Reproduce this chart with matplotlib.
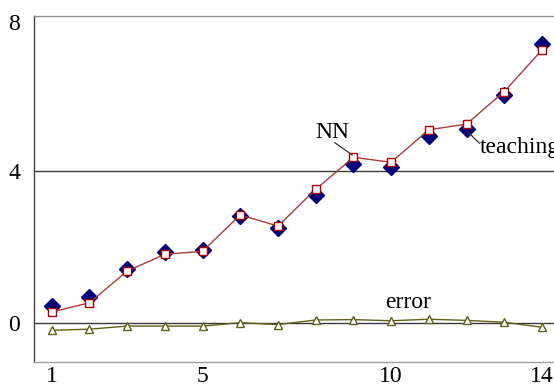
import matplotlib
matplotlib.use("Agg")
import matplotlib.pyplot as plt

# ── Data ──────────────────────────────────────────────────────────────────────
steps = list(range(1, 15))
teaching = [0.45, 0.70, 1.42, 1.86, 1.92, 2.81, 2.50, 3.36, 4.18, 4.10, 4.91, 5.09, 5.97, 7.31]
nn = [0.30, 0.54, 1.37, 1.81, 1.89, 2.84, 2.55, 3.51, 4.35, 4.22, 5.07, 5.22, 6.07, 7.16]
error = [-0.18, -0.15, -0.07, -0.07, -0.07, 0.02, -0.03, 0.09, 0.10, 0.07, 0.11, 0.08, 0.03, -0.10]

x_ticks = [1, 5, 10, 14]
y_ticks = [0, 4]

# ── Colours ───────────────────────────────────────────────────────────────────
NAVY = "#00007a"
RED_LINE = "#a83a3a"
RED_EDGE = "#b00000"
OLIVE = "#60601a"

plt.rcParams["font.family"] = ["Liberation Serif", "DejaVu Serif"]

fig = plt.figure(figsize=(5.54, 3.85), dpi=100)
ax = fig.add_axes([34 / 554, 23 / 385, 1 - 34 / 554, 346 / 385])

# reference lines at 0 and 4
for yv in (0, 4):
    ax.axhline(yv, color="#3a3a3a", lw=1.0, zorder=1)

ax.plot(steps, teaching, ls="none", marker="D", ms=8.5, color=NAVY, zorder=3)
ax.plot(steps, nn, color=RED_LINE, lw=1.0, marker="s", ms=5.5,
        mfc="white", mec=RED_EDGE, mew=1.0, zorder=4)
ax.plot(steps, error, color=OLIVE, lw=1.0, marker="^", ms=6,
        mfc="white", mec=OLIVE, mew=1.0, zorder=2)

ax.set_xlim(0.53, 14.32)
ax.set_ylim(-1.01, 8.05)
ax.set_xticks(x_ticks)
ax.set_yticks(y_ticks)
ax.tick_params(axis="both", length=0, labelsize=17)
ax.tick_params(axis="y", pad=10)
ax.tick_params(axis="x", pad=3)

# top label sits a little below the frame edge
ax.annotate("8", xy=(0, 8), xycoords=("axes fraction", "data"),
            xytext=(-10, -5), textcoords="offset points",
            ha="right", va="center", fontsize=17)

ax.spines["right"].set_visible(False)
ax.spines["left"].set_color("#404040")
ax.spines["top"].set_color("#909090")
ax.spines["bottom"].set_color("#a0a0a0")
for side in ("left", "top", "bottom"):
    ax.spines[side].set_linewidth(1.0)

# series labels with short leader lines
ax.text(8.43, 4.99, "NN", ha="center", va="center", fontsize=17)
ax.plot([8.51, 8.97], [4.73, 4.41], color="#303030", lw=0.9, zorder=5)
ax.text(12.34, 4.6, "teaching", ha="left", va="center", fontsize=17)
ax.plot([12.04, 12.34], [5.01, 4.72], color="#303030", lw=0.9, zorder=5)
ax.text(10.45, 0.54, "error", ha="center", va="center", fontsize=17)

fig.savefig("out.png", dpi=100)
